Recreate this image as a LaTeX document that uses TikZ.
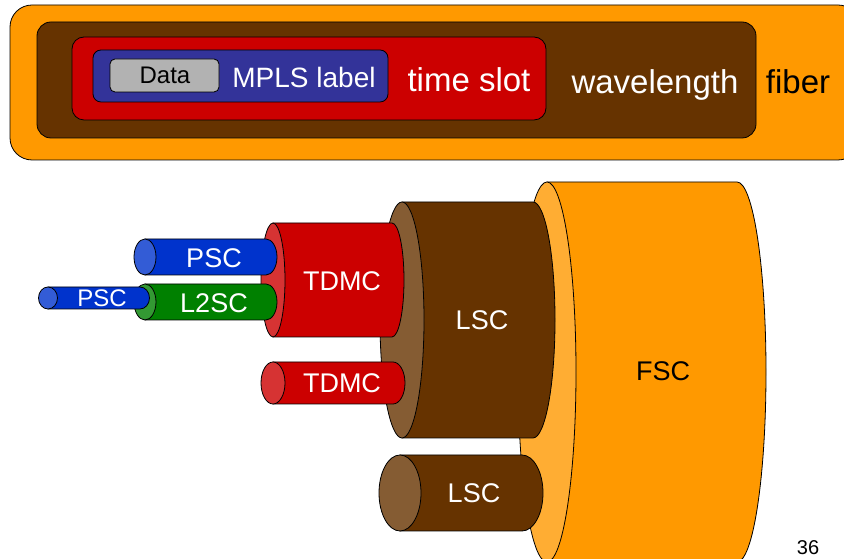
\documentclass[tikz,border=0pt]{standalone}
\usepackage{fontspec}
\setmainfont{Liberation Sans}
\usepackage{tikz}

\definecolor{fsc}{HTML}{FF9900}
\definecolor{lsc}{HTML}{663300}
\definecolor{tdmc}{HTML}{CC0000}
\definecolor{psc}{HTML}{0033CC}
\definecolor{ltwosc}{HTML}{008000}
\definecolor{mpls}{HTML}{333399}
\definecolor{pkt}{HTML}{B2B2B2}

% cylinder: left x, right x, centre y, x radius, y radius, colour
\newcommand{\tube}[6]{%
	\filldraw[fill=#6, line width=0.8pt] (#1,#3+#5) -- (#2,#3+#5)
		arc[start angle=90, end angle=-90, x radius=#4, y radius=#5] -- (#1,#3-#5) -- cycle;
	\filldraw[fill=#6!80!white, line width=0.8pt] (#1,#3) ellipse [x radius=#4, y radius=#5];
}

\tikzset{
	lbl/.style={inner sep=0pt, anchor=base, text=white},
	big/.style={font=\fontsize{33}{36}\selectfont},
	mid/.style={font=\fontsize{27}{30}\selectfont},
	sml/.style={font=\fontsize{24}{27}\selectfont},
	box/.style={draw, line width=0.8pt}
}

\begin{document}
		\begin{tikzpicture}[x=1pt, y=1pt]
			\useasboundingbox (0,0) rectangle (844,559);
			% nested layers
			\filldraw[box, fill=fsc, rounded corners=22] (10,399) rectangle (860,554);
			\filldraw[box, fill=lsc, rounded corners=14] (37,421) rectangle (756,537);
			\filldraw[box, fill=tdmc, rounded corners=12] (72,439) rectangle (546,522);
			\filldraw[box, fill=mpls, rounded corners=8] (93,457) rectangle (388,509);
			\filldraw[box, fill=pkt, rounded corners=5] (110,467) rectangle (219,500);
			\node[lbl, sml, text=black] (data) at (165,475) {Data};
			\node[lbl, font=\fontsize{28}{31}\selectfont] (label) at (304,471.5) {MPLS label};
			\node[lbl, big] (slot) at (469,467) {time slot};
			\node[lbl, big] (lambda) at (655,465) {wavelength};
			\node[lbl, big, text=black] (fiber) at (798,465) {fiber};
			% switching capabilities
			\tube{547}{737}{187}{29}{190}{fsc}
			\tube{402}{533}{239}{22}{118}{lsc}
			\tube{400}{522}{66}{21}{38}{lsc}
			\tube{273}{392}{279}{12}{57}{tdmc}
			\tube{273}{393}{176}{12}{21}{tdmc}
			\tube{145}{266}{302}{11}{18}{psc}
			\tube{145}{266}{257}{11}{18}{ltwosc}
			\tube{48}{140}{261}{9.5}{11}{psc}
			\node[lbl, mid, text=black] (fscl) at (663,178) {FSC};
			\node[lbl, mid] (lscl) at (482,229) {LSC};
			\node[lbl, mid] (lscs) at (474,56) {LSC};
			\node[lbl, mid] (tdmcl) at (342,268) {TDMC};
			\node[lbl, mid] (tdmcs) at (342,166) {TDMC};
			\node[lbl, mid] (pscl) at (214,291) {PSC};
			\node[lbl, mid] (l2sc) at (214,246) {L2SC};
			\node[lbl, sml] (pscs) at (102,252) {PSC};
			\node[lbl, font=\fontsize{20}{24}\selectfont, text=black] (page) at (808,4) {36};
		\end{tikzpicture}
\end{document}
